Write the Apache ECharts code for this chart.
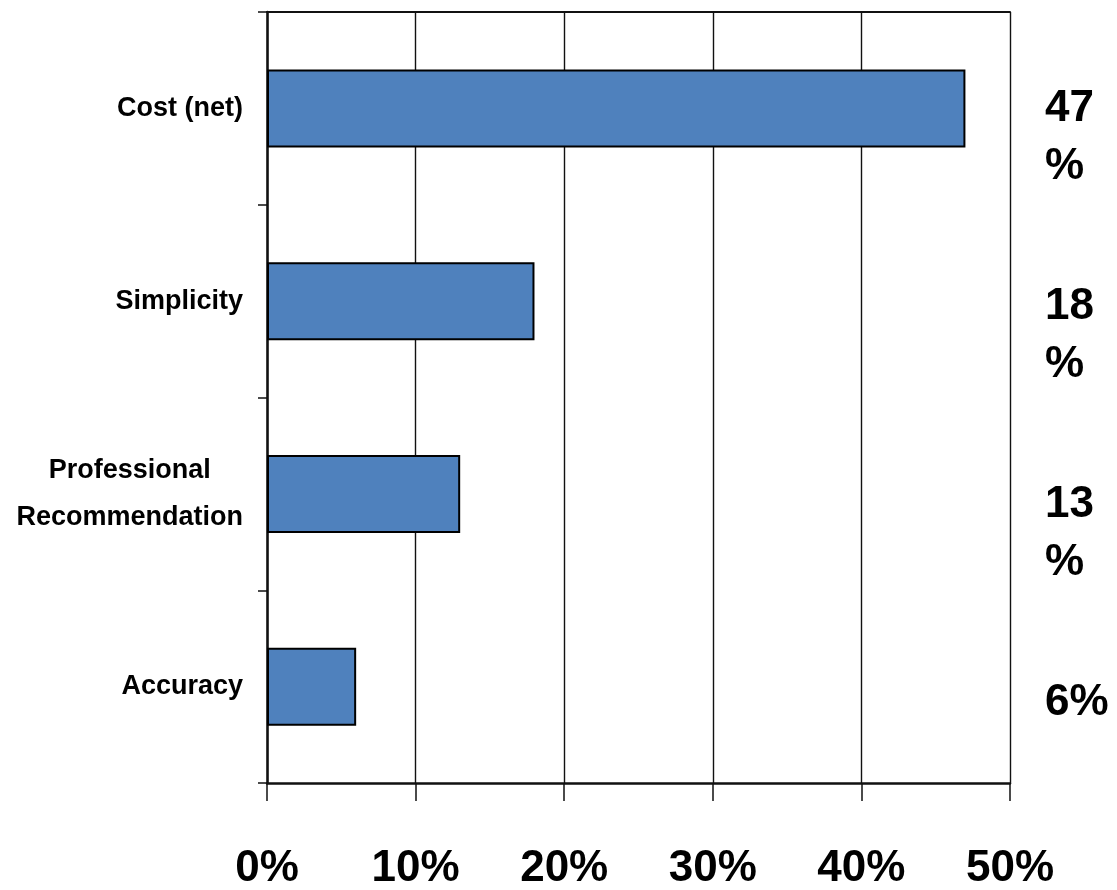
<!DOCTYPE html>
<html>
<head>
<meta charset="utf-8">
<script src="https://cdn.jsdelivr.net/npm/echarts@6/dist/echarts.min.js"></script>
<style>
  html, body { margin: 0; padding: 0; background: #fff; }
  #chart { width: 1117px; height: 890px; }
</style>
</head>
<body>
<div id="chart"></div>
<script>
// Reasons given, share of respondents (%)
const categories = ['Cost (net)', 'Simplicity', 'Professional\nRecommendation', 'Accuracy'];
const shares = [47, 18, 13, 6];
// Value axis ticks (%)
const xTicks = [0, 10, 20, 30, 40, 50];

const FONT = "'Liberation Sans Narrow', 'Arial Narrow', 'Liberation Sans', Arial, sans-serif";
const LINE = '#111111';

const chart = echarts.init(document.getElementById('chart'), null, { renderer: 'canvas' });

chart.setOption({
  backgroundColor: '#ffffff',
  animation: false,
  grid: [
    { left: 267, right: 107, top: 12, bottom: 107, containLabel: false, outerBoundsMode: 'none' },
    // right-hand column of value captions
    { left: 267, right: 107, top: -19, height: 792, containLabel: false, outerBoundsMode: 'none' }
  ],
  xAxis: [
    {
      type: 'value',
      gridIndex: 0,
      position: 'bottom',
      min: xTicks[0],
      max: xTicks[xTicks.length - 1],
      interval: xTicks[1] - xTicks[0],
      axisLine: { show: true, lineStyle: { color: LINE, width: 2.5 } },
      axisTick: { show: true, inside: false, length: 18, lineStyle: { color: LINE, width: 1.5 } },
      splitLine: { show: true, lineStyle: { color: LINE, width: 1.4 } },
      axisLabel: {
        formatter: '{value}%',
        margin: 64,
        color: '#000',
        fontFamily: FONT,
        fontWeight: 'bold',
        fontSize: 44
      }
    },
    {
      // top border of the plot area
      type: 'value',
      gridIndex: 0,
      position: 'top',
      min: xTicks[0],
      max: xTicks[xTicks.length - 1],
      axisLine: { show: true, lineStyle: { color: LINE, width: 2 } },
      axisTick: { show: false },
      axisLabel: { show: false },
      splitLine: { show: false }
    },
    {
      type: 'value',
      gridIndex: 1,
      show: false,
      min: 0,
      max: 50
    }
  ],
  yAxis: [
    {
      type: 'category',
      gridIndex: 0,
      data: categories,
      inverse: true,
      axisLine: { show: true, lineStyle: { color: LINE, width: 2.5 } },
      axisTick: { show: true, inside: false, length: 9, lineStyle: { color: LINE, width: 1.5 } },
      splitLine: { show: false },
      axisLabel: {
        interval: 0,
        margin: 24,
        formatter: (v) => v.split('\n').map((s) => '{c|' + s + '}').join('\n'),
        rich: {
          c: {
            align: 'center',
            color: '#000',
            fontFamily: FONT,
            fontWeight: 'bold',
            fontSize: 27,
            lineHeight: 47
          }
        }
      }
    },
    {
      type: 'category',
      gridIndex: 1,
      data: categories,
      inverse: true,
      position: 'right',
      axisLine: { show: false },
      axisTick: { show: false },
      splitLine: { show: false },
      axisLabel: {
        interval: 0,
        margin: 35,
        align: 'left',
        verticalAlign: 'top',
        width: 70,
        overflow: 'breakAll',
        lineHeight: 58,
        color: '#000',
        fontFamily: FONT,
        fontWeight: 'bold',
        fontSize: 44,
        formatter: (v, i) => shares[i] + '%'
      }
    }
  ],
  series: [
    {
      type: 'bar',
      xAxisIndex: 0,
      yAxisIndex: 0,
      data: shares,
      barWidth: 78,
      itemStyle: {
        color: '#4F81BD',
        borderColor: '#000',
        borderWidth: 2
      }
    }
  ]
});
</script>
</body>
</html>
